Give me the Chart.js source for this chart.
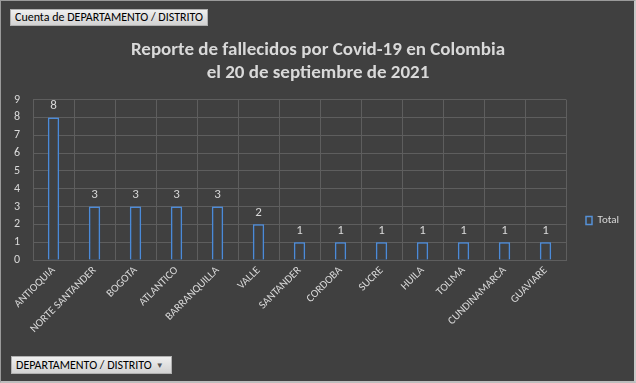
<!DOCTYPE html>
<html>
<head>
<meta charset="utf-8">
<script src="https://cdn.jsdelivr.net/npm/chart.js@4"></script>
<style>
  html, body { margin: 0; padding: 0; background: #404040; }
  #wrap { position: relative; width: 636px; height: 383px; background: #404040; overflow: hidden; }
  #c { position: absolute; left: 0; top: 0; }
  #frame { position: absolute; left: 0; top: 0; width: 636px; height: 383px; box-sizing: border-box;
           border: 1px solid #9a9a9a; border-right: 2px solid #c8c8c8; border-bottom: 2px solid #bdbdbd; pointer-events: none; }
  .btn { position: absolute; box-sizing: border-box; font-family: Calibri, Carlito, Lato, "Open Sans", sans-serif;
         font-size: 12px; color: #000; background: linear-gradient(#efefef, #d2d2d2); border: 1px solid #b0b0b0;
         line-height: 15px; padding: 0 4px; white-space: nowrap; }
  #btnTop { left: 10px; top: 9px; width: 198px; height: 17px; }
  #btnBottom { left: 11px; top: 356px; width: 161px; height: 18px; line-height: 16px; }
  #btnBottom .arr { font-size: 8px; color: #555; margin-left: 4px; vertical-align: 1px; }
</style>
</head>
<body>
<div id="wrap">
  <canvas id="c" width="636" height="383"></canvas>
  <div class="btn" id="btnTop">Cuenta de DEPARTAMENTO / DISTRITO</div>
  <div class="btn" id="btnBottom">DEPARTAMENTO / DISTRITO<span class="arr">&#9660;</span></div>
  <div id="frame"></div>
</div>
<script>
const categories = ['ANTIOQUIA', 'NORTE SANTANDER', 'BOGOTA', 'ATLANTICO', 'BARRANQUILLA', 'VALLE',
  'SANTANDER', 'CORDOBA', 'SUCRE', 'HUILA', 'TOLIMA', 'CUNDINAMARCA', 'GUAVIARE'];
const totalValues = [8, 3, 3, 3, 3, 2, 1, 1, 1, 1, 1, 1, 1];
const seriesName = 'Total';
const titleLines = ['Reporte de fallecidos por Covid-19 en Colombia', 'el 20 de septiembre de 2021'];
const yTicks = [0, 1, 2, 3, 4, 5, 6, 7, 8, 9];

const FONT = 'Calibri, Carlito, Lato, "Open Sans", sans-serif';
const TXT = '#d9d9d9';
const GRID = '#5e5e5e';
const BLUE = '#5590d6';

const glowPlugin = {
  id: 'glow',
  beforeDatasetDraw(chart) {
    const ctx = chart.ctx;
    ctx.save();
    ctx.shadowColor = 'rgba(60,130,220,1)';
    ctx.shadowBlur = 7;
  },
  afterDatasetDraw(chart) { chart.ctx.restore(); }
};

const valueLabels = {
  id: 'valueLabels',
  afterDatasetsDraw(chart) {
    const ctx = chart.ctx;
    const meta = chart.getDatasetMeta(0);
    ctx.save();
    ctx.font = '13px ' + FONT;
    ctx.fillStyle = TXT;
    ctx.textAlign = 'center';
    ctx.textBaseline = 'bottom';
    meta.data.forEach((bar, i) => {
      ctx.fillText(String(chart.data.datasets[0].data[i]), bar.x, bar.y - 5);
    });
    ctx.restore();
  }
};

const moveBoxes = {
  id: 'moveBoxes',
  afterLayout(chart) {
    const lg = chart.legend;
    if (lg) {
      const w = lg.width, h = lg.height;
      lg.left = 576; lg.right = 576 + w;
      lg.top = 205; lg.bottom = 205 + h;
    }
    const tb = chart.titleBlock;
    if (tb) {
      tb.left = 0; tb.right = chart.width; tb.width = chart.width;
    }
  }
};

new Chart(document.getElementById('c'), {
  type: 'bar',
  data: {
    labels: categories,
    datasets: [{
      label: seriesName,
      data: totalValues,
      backgroundColor: 'rgba(64,64,64,1)',
      borderColor: BLUE,
      borderWidth: 1.5,
      barPercentage: 0.72,
      categoryPercentage: 0.38
    }]
  },
  options: {
    responsive: false,
    animation: false,
    devicePixelRatio: 1,
    layout: { padding: { left: 0, right: 70, top: 39, bottom: 0 } },
    plugins: {
      title: {
        display: true,
        text: titleLines,
        color: TXT,
        font: { family: FONT, size: 19, weight: 'bold', lineHeight: 1.2 },
        padding: { top: 0, bottom: 15 }
      },
      legend: {
        display: true,
        position: 'chartArea',
        align: 'start',
        labels: {
          color: TXT,
          font: { family: FONT, size: 11 },
          boxWidth: 6,
          boxHeight: 8,
          padding: 10
        }
      },
      tooltip: { enabled: false }
    },
    scales: {
      x: {
        grid: { color: GRID, lineWidth: 1, drawTicks: false, offset: true },
        border: { color: GRID },
        ticks: {
          color: TXT, font: { family: FONT, size: 11 },
          minRotation: 45, maxRotation: 45, autoSkip: false, padding: 4
        },
        afterFit(scale) { scale.height = 123; }
      },
      y: {
        min: 0, max: 9,
        grid: { color: GRID, lineWidth: 1, drawTicks: false },
        border: { color: GRID },
        ticks: {
          stepSize: 1, autoSkip: false, color: TXT, font: { family: FONT, size: 12 }, padding: 13,
          callback: (v) => yTicks.includes(v) ? String(v) : ''
        },
        afterFit(scale) { scale.width = 33; }
      }
    }
  },
  plugins: [glowPlugin, valueLabels, moveBoxes]
});
</script>
</body>
</html>
